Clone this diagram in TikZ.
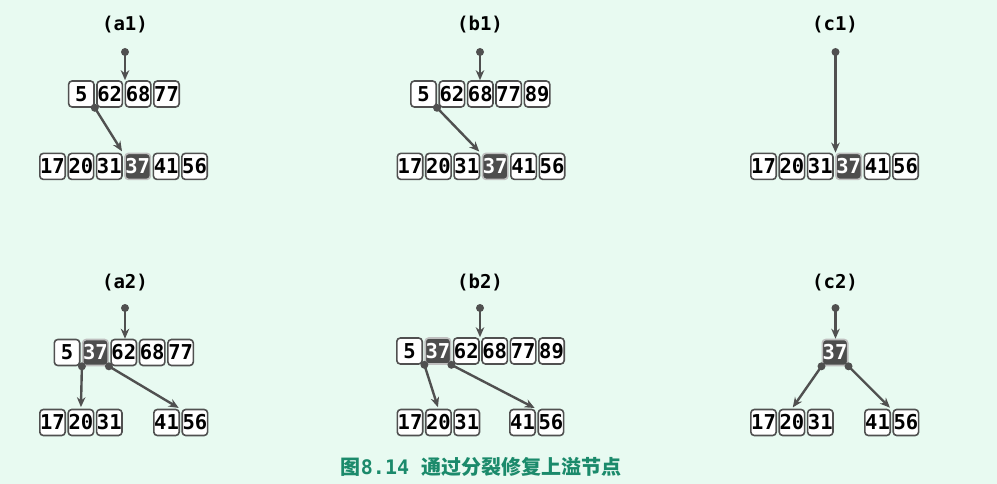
\documentclass[tikz,border=0pt]{standalone}
\usepackage{fontspec}
\newfontfamily\keyfont{DejaVu Sans Mono}[Scale=1.0]
\newfontfamily\cjk{Noto Sans CJK SC}
\usetikzlibrary{positioning, arrows.meta}
\definecolor{bgmint}{RGB}{232,250,241}
\definecolor{keyline}{RGB}{80,80,80}
\definecolor{hotfill}{RGB}{77,77,77}
\definecolor{capgreen}{RGB}{27,138,107}
\tikzset{
  key/.style={draw=keyline, fill=white, rounded corners=3.5pt, line width=1.6pt,
    minimum width=25.4pt, minimum height=26pt, inner sep=0pt,
    font=\keyfont\bfseries\fontsize{20.5}{20.5}\selectfont},
  hot/.style={key, fill=hotfill, draw=gray!50, text=white},
  tag/.style={font=\keyfont\bfseries\fontsize{19}{19}\selectfont},
  dot/.style={circle, fill=keyline, inner sep=0pt, minimum size=8pt},
  ptr/.style={draw=keyline, line width=2.4pt, -{Stealth[length=10pt,width=8.5pt]}},
  node distance=1.4pt
}
\begin{document}
\begin{tikzpicture}[x=1pt, y=-1pt]
  \fill[bgmint] (0,0) rectangle (997,484);
  \useasboundingbox (0,0) rectangle (997,484);

  % (a1)
  \node[tag] (a1) at (125,25) {(a1)};
  \node[dot] (a1p) at (125,52) {};
  \node[key] (a1t5) at (81.3,94) {5};
  \node[key, right=of a1t5] (a1t62) {62};
  \node[key, right=of a1t62] (a1t68) {68};
  \node[key, right=of a1t68] (a1t77) {77};
  \node[key] (a1b17) at (52.5,166.4) {17};
  \node[key, right=of a1b17] (a1b20) {20};
  \node[key, right=of a1b20] (a1b31) {31};
  \node[hot, right=of a1b31] (a1b37) {37};
  \node[key, right=of a1b37] (a1b41) {41};
  \node[key, right=of a1b41] (a1b56) {56};
  \node[dot] (a1d) at (a1t5.south east) {};
  \draw[ptr] (a1p.center) -- (a1p |- a1t62.north);
  \draw[ptr, shorten >=1.5pt] (a1d.center) -- (a1b31.north east);

  % (b1)
  \node[tag] (b1) at (480,25) {(b1)};
  \node[dot] (b1p) at (480,52) {};
  \node[key] (b1t5) at (423.5,94) {5};
  \node[key, right=of b1t5] (b1t62) {62};
  \node[key, right=of b1t62] (b1t68) {68};
  \node[key, right=of b1t68] (b1t77) {77};
  \node[key, right=of b1t77] (b1t89) {89};
  \node[key] (b1b17) at (410,166.4) {17};
  \node[key, right=of b1b17] (b1b20) {20};
  \node[key, right=of b1b20] (b1b31) {31};
  \node[hot, right=of b1b31] (b1b37) {37};
  \node[key, right=of b1b37] (b1b41) {41};
  \node[key, right=of b1b41] (b1b56) {56};
  \node[dot] (b1d) at (b1t5.south east) {};
  \draw[ptr] (b1p.center) -- (b1p |- b1t68.north);
  \draw[ptr, shorten >=1.5pt] (b1d.center) -- (b1b31.north east);

  % (c1)
  \node[tag] (c1) at (835,25) {(c1)};
  \node[dot] (c1p) at (835.5,52) {};
  \node[key] (c1b17) at (763.5,166.4) {17};
  \node[key, right=of c1b17] (c1b20) {20};
  \node[key, right=of c1b20] (c1b31) {31};
  \node[hot, right=of c1b31] (c1b37) {37};
  \node[key, right=of c1b37] (c1b41) {41};
  \node[key, right=of c1b41] (c1b56) {56};
  \draw[ptr] (c1p.center) -- (c1p |- c1b37.north);

  % (a2)
  \node[tag] (a2) at (125,283) {(a2)};
  \node[dot] (a2p) at (125,308) {};
  \node[key] (a2t5) at (67,352.5) {5};
  \node[hot, right=of a2t5] (a2t37) {37};
  \node[key, right=of a2t37] (a2t62) {62};
  \node[key, right=of a2t62] (a2t68) {68};
  \node[key, right=of a2t68] (a2t77) {77};
  \node[key] (a2b17) at (52.5,422.5) {17};
  \node[key, right=of a2b17] (a2b20) {20};
  \node[key, right=of a2b20] (a2b31) {31};
  \node[key] (a2b41) at (166.5,422.5) {41};
  \node[key, right=of a2b41] (a2b56) {56};
  \node[dot] (a2dl) at (a2t37.south west) {};
  \node[dot] (a2dr) at (a2t37.south east) {};
  \draw[ptr] (a2p.center) -- (a2p |- a2t62.north);
  \draw[ptr, shorten >=1.5pt] (a2dl.center) -- (a2b20.north);
  \draw[ptr, shorten >=1.5pt] (a2dr.center) -- (a2b41.north east);

  % (b2)
  \node[tag] (b2) at (480,283) {(b2)};
  \node[dot] (b2p) at (480,308) {};
  \node[key] (b2t5) at (409.5,351) {5};
  \node[hot, right=of b2t5] (b2t37) {37};
  \node[key, right=of b2t37] (b2t62) {62};
  \node[key, right=of b2t62] (b2t68) {68};
  \node[key, right=of b2t68] (b2t77) {77};
  \node[key, right=of b2t77] (b2t89) {89};
  \node[key] (b2b17) at (410,422.5) {17};
  \node[key, right=of b2b17] (b2b20) {20};
  \node[key, right=of b2b20] (b2b31) {31};
  \node[key] (b2b41) at (522.5,422.5) {41};
  \node[key, right=of b2b41] (b2b56) {56};
  \node[dot] (b2dl) at (b2t37.south west) {};
  \node[dot] (b2dr) at (b2t37.south east) {};
  \draw[ptr] (b2p.center) -- (b2p |- b2t62.north);
  \draw[ptr, shorten >=1.5pt] (b2dl.center) -- (b2b20.north);
  \draw[ptr, shorten >=1.5pt] (b2dr.center) -- (b2b41.north east);

  % (c2)
  \node[tag] (c2) at (835,283) {(c2)};
  \node[dot] (c2p) at (835.5,308) {};
  \node[hot] (c2t37) at (835,352.5) {37};
  \node[key] (c2b17) at (763.5,422.5) {17};
  \node[key, right=of c2b17] (c2b20) {20};
  \node[key, right=of c2b20] (c2b31) {31};
  \node[key] (c2b41) at (877.5,422.5) {41};
  \node[key, right=of c2b41] (c2b56) {56};
  \node[dot] (c2dl) at (c2t37.south west) {};
  \node[dot] (c2dr) at (c2t37.south east) {};
  \draw[ptr] (c2p.center) -- (c2p |- c2t37.north);
  \draw[ptr, shorten >=1.5pt] (c2dl.center) -- (c2b20.north);
  \draw[ptr, shorten >=1.5pt] (c2dr.center) -- (c2b41.north east);

  % caption
  \node[text=capgreen, font=\cjk\bfseries\fontsize{20}{20}\selectfont] (cap) at (481,467)
    {图{\keyfont\bfseries 8.14}\hspace{12pt}通过分裂修复上溢节点};
\end{tikzpicture}
\end{document}
